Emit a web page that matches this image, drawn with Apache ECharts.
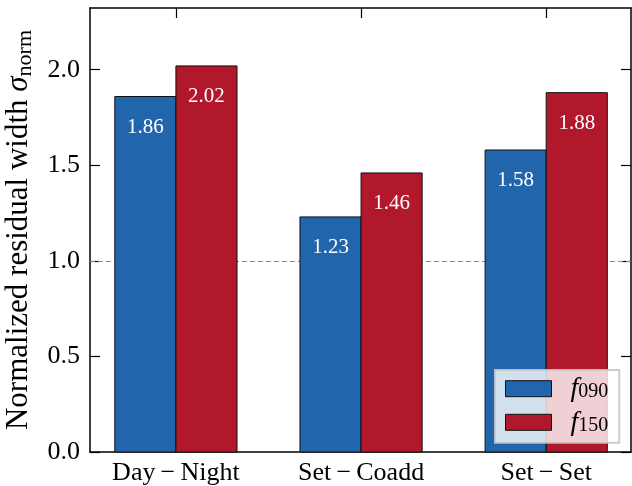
<!DOCTYPE html>
<html>
<head>
<meta charset="utf-8">
<script src="https://cdn.jsdelivr.net/npm/echarts@6/dist/echarts.min.js"></script>
<style>html,body{margin:0;padding:0;background:#fff}#c{width:632px;height:486px}</style>
</head>
<body>
<div id="c"></div>
<script>
const categories = ['Day\u2009\u2212\u2009Night', 'Set\u2009\u2212\u2009Coadd', 'Set\u2009\u2212\u2009Set'];
const seriesNames = ['090', '150'];
const f090 = [1.86, 1.23, 1.58];
const f150 = [2.02, 1.46, 1.88];
const yTicks = [0.0, 0.5, 1.0, 1.5, 2.0];
const referenceLevel = 1.0;
const Y_MAX = 2.323;
const X_MIN = -0.464, X_MAX = 2.458;
const BAR_W = 0.33;

const FONT = 'Liberation Serif';
const catIdx = categories.map((c, i) => i);
const toPts = arr => arr.map((v, i) => [i, v]);

const chart = echarts.init(document.getElementById('c'), null, {renderer: 'canvas'});

const xAxisBase = {
  type: 'value', min: X_MIN, max: X_MAX,
  splitLine: {show: false},
  axisLine: {show: true, onZero: false, lineStyle: {color: '#000', width: 1.5}},
  axisTick: {show: true, inside: true, length: 10, customValues: catIdx, lineStyle: {color: '#000', width: 1.2}},
};
const yAxisBase = {
  type: 'value', min: 0, max: Y_MAX,
  splitLine: {show: false},
  axisLine: {show: true, onZero: false, lineStyle: {color: '#000', width: 1.5}},
  axisTick: {show: true, inside: true, length: 10, customValues: yTicks, lineStyle: {color: '#000', width: 1.2}},
};

function makeBarSeries(name, values, color, side) {
  return {
    name: name, type: 'custom', xAxisIndex: 0, yAxisIndex: 0, z: 2,
    data: toPts(values),
    encode: {x: 0, y: 1},
    itemStyle: {color: color, borderColor: '#111', borderWidth: 1},
    renderItem: function (params, api) {
      const xv = api.value(0), yv = api.value(1);
      const cx = xv + side * BAR_W / 2;
      const base = api.coord([cx, 0]);
      const top = api.coord([cx, yv]);
      const w = api.size([BAR_W, 0])[0];
      return {
        type: 'rect',
        shape: {x: base[0] - w / 2, y: top[1], width: w, height: base[1] - top[1]},
        style: {fill: color, stroke: '#111', lineWidth: 1},
        textContent: {
          style: {text: yv.toFixed(2), fill: '#fff', fontFamily: FONT, fontSize: 21,
                   align: 'center', verticalAlign: 'middle'}
        },
        textConfig: {position: ['50%', 31]}
      };
    }
  };
}

const s0 = makeBarSeries(seriesNames[0], f090, '#2166ac', -1);
s0.markLine = {
  silent: true, symbol: 'none', z: 1, animation: false,
  label: {show: false},
  lineStyle: {type: [5, 3], color: '#8c8c8c', width: 1.1},
  data: [{yAxis: referenceLevel}]
};
const s1 = makeBarSeries(seriesNames[1], f150, '#b2182b', 1);

chart.setOption({
  animation: false,
  backgroundColor: '#fff',
  grid: {left: 90, top: 8, right: 1, bottom: 34, containLabel: false, outerBoundsMode: 'none'},
  xAxis: [
    Object.assign({}, xAxisBase, {
      position: 'bottom',
      axisLabel: {show: true, customValues: catIdx, margin: 8, fontFamily: FONT, fontSize: 26, color: '#000',
        formatter: v => categories[Math.round(v)]}
    }),
    Object.assign({}, xAxisBase, {position: 'top', axisLabel: {show: false}})
  ],
  yAxis: [
    Object.assign({}, yAxisBase, {
      position: 'left',
      axisLabel: {show: true, customValues: yTicks, margin: 10, fontFamily: FONT, fontSize: 26, color: '#000',
        formatter: v => v.toFixed(1)},
      name: '{n|Normalized residual width }{it|\u03c3}{sub|norm}',
      nameLocation: 'middle', nameGap: 50, nameRotate: 90,
      nameTextStyle: {rich: {
        n: {fontFamily: FONT, fontSize: 31, color: '#000'},
        it: {fontFamily: FONT, fontStyle: 'italic', fontSize: 31, color: '#000'},
        sub: {fontFamily: FONT, fontSize: 22, color: '#000', padding: [13, 0, 0, 0]}
      }}
    }),
    Object.assign({}, yAxisBase, {position: 'right', axisLabel: {show: false}})
  ],
  legend: {
    orient: 'vertical', left: 495, top: 370,
    padding: [4.7, 11, 6.5, 10], itemGap: 5.6, itemWidth: 46, itemHeight: 16,
    backgroundColor: 'rgba(255,255,255,0.8)',
    borderColor: 'rgba(200,200,200,0.9)', borderWidth: 2, borderRadius: 0,
    icon: 'rect',
    data: seriesNames,
    formatter: name => '{it|f}{sub|' + name + '}',
    itemStyle: {borderColor: '#111', borderWidth: 1},
    textStyle: {rich: {
      it: {fontFamily: FONT, fontStyle: 'italic', fontSize: 28, lineHeight: 26, color: '#000', padding: [0, 0, 0, 14], verticalAlign: 'middle'},
      sub: {fontFamily: FONT, fontSize: 20, lineHeight: 12, color: '#000', verticalAlign: 'bottom'}
    }}
  },
  series: [s0, s1]
});
</script>
</body>
</html>
